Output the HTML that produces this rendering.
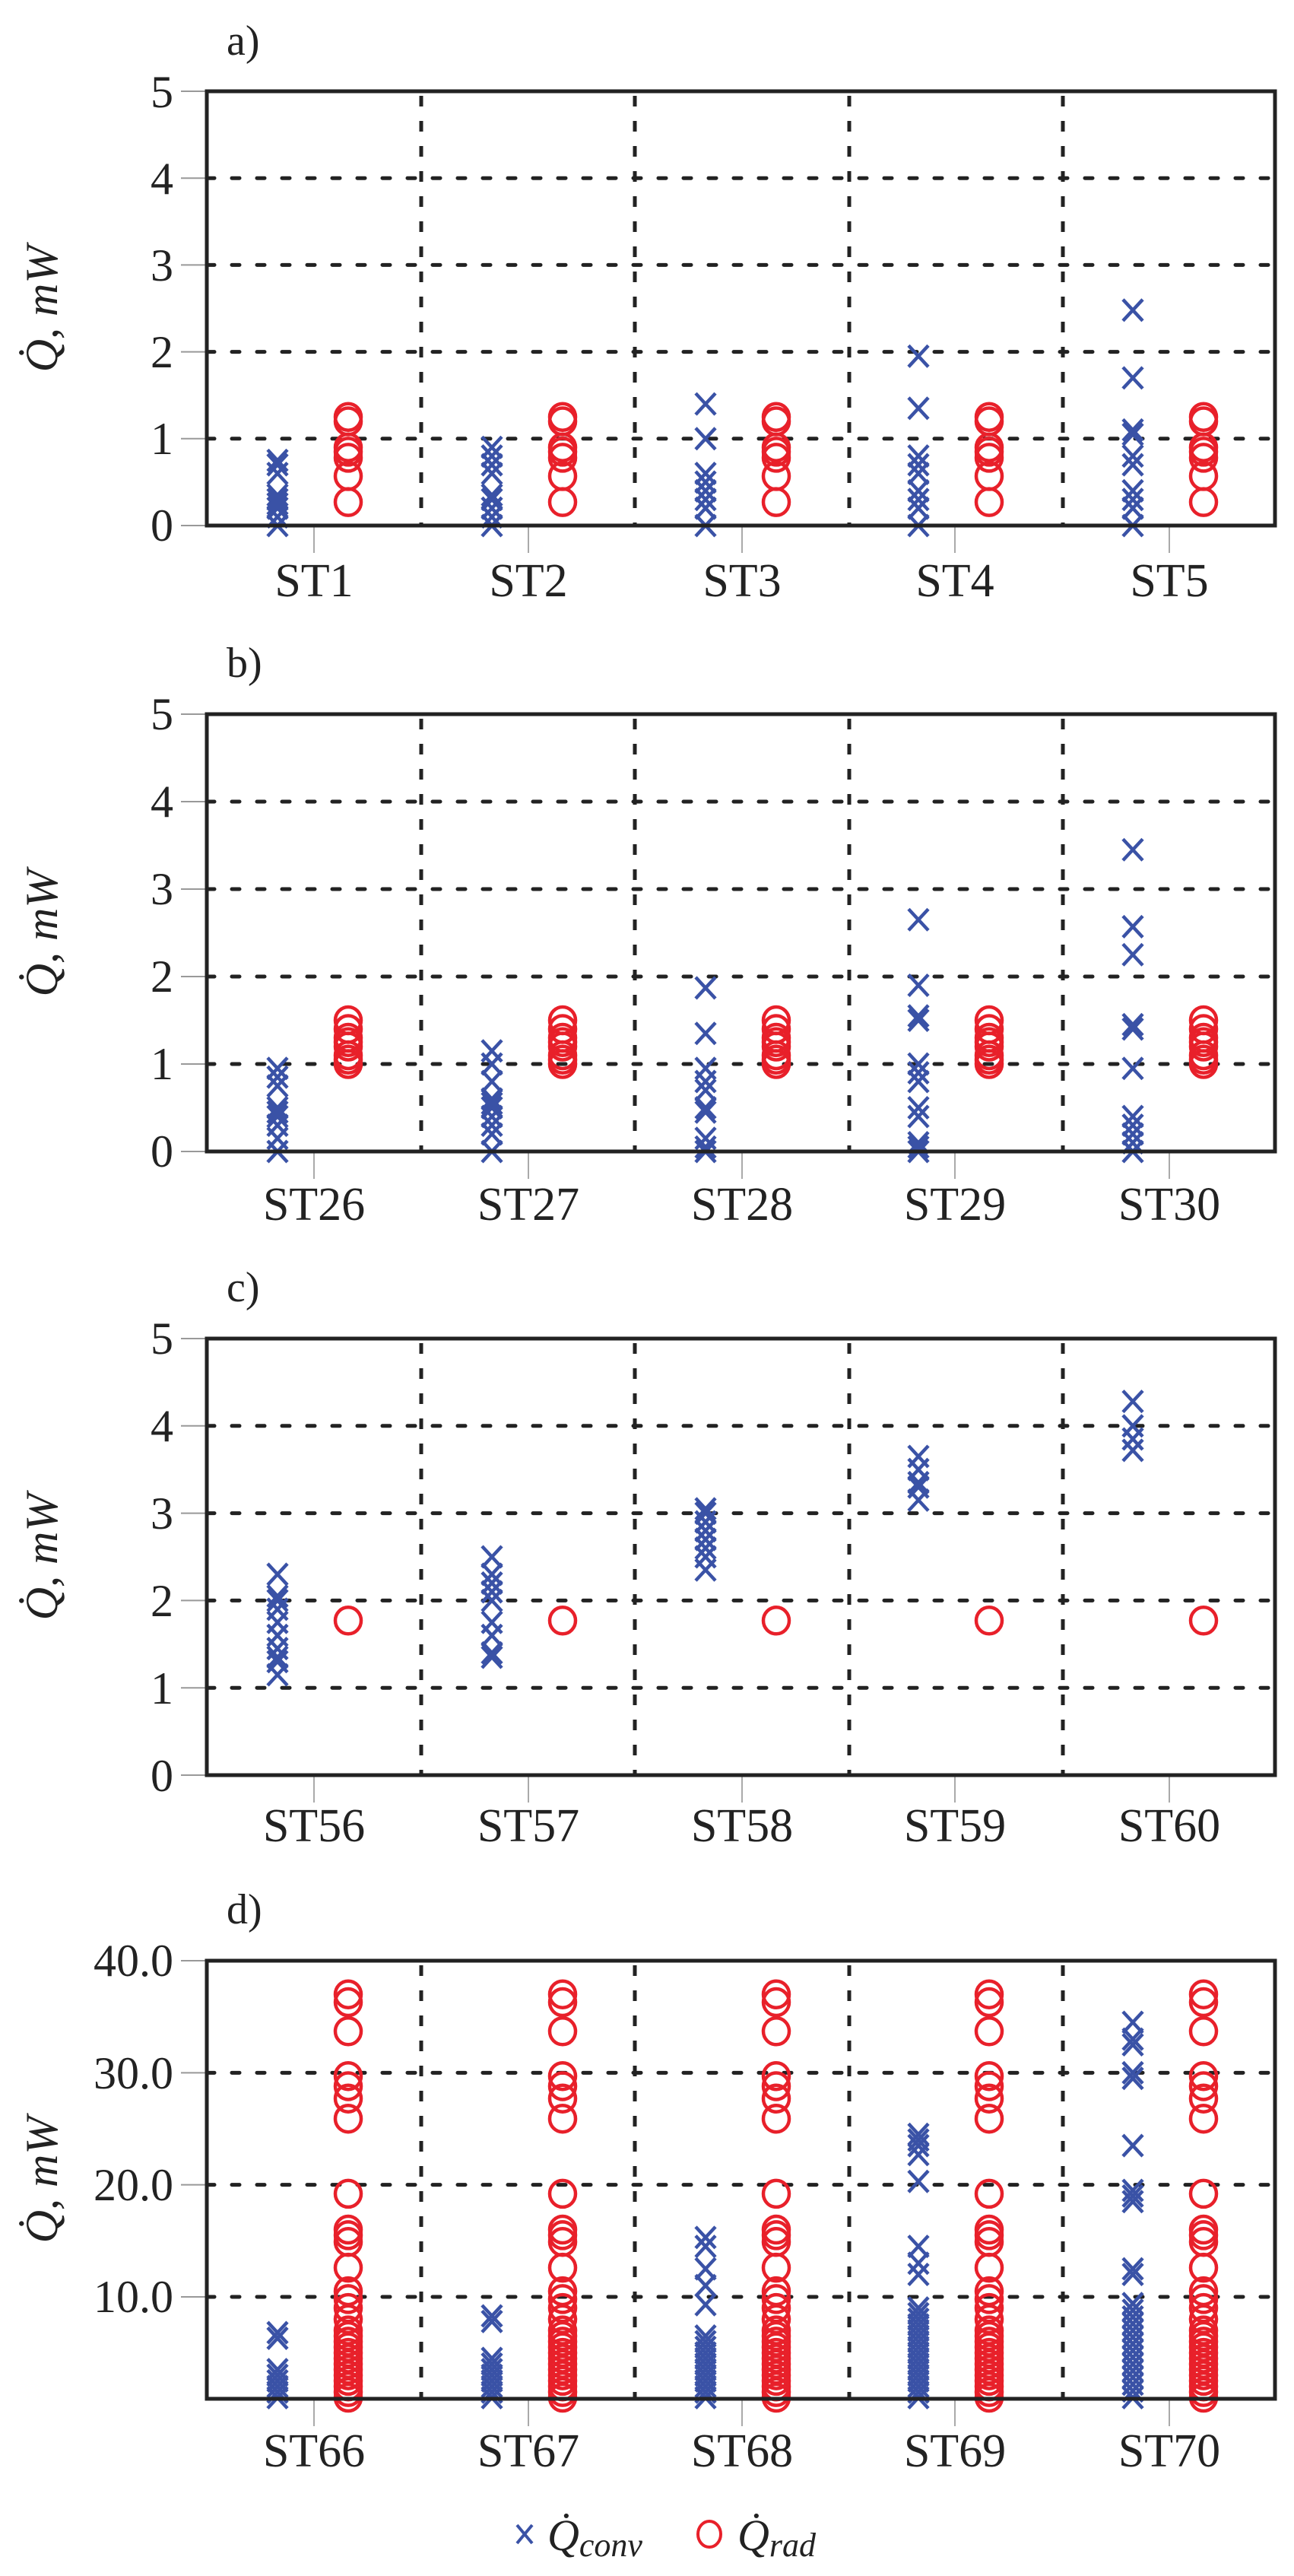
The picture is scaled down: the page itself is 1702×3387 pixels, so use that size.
<!DOCTYPE html>
<html><head><meta charset="utf-8">
<style>
html,body{margin:0;padding:0;background:#fff;}
svg{display:block;}
text{font-family:"Liberation Serif",serif;fill:#222;}
</style></head>
<body>
<svg id="s" width="1702" height="3387" viewBox="0 0 1702 3387" xmlns="http://www.w3.org/2000/svg">
<g id="g"></g>
<text x="298" y="72" font-size="56">a)</text>
<text x="298" y="890" font-size="56">b)</text>
<text x="298" y="1711" font-size="56">c)</text>
<text x="298" y="2529" font-size="56">d)</text>
<g font-size="60" text-anchor="end">
<text x="228" y="141">5</text><text x="228" y="255">4</text><text x="228" y="369">3</text><text x="228" y="483">2</text><text x="228" y="597">1</text><text x="228" y="711">0</text>
<text x="228" y="959">5</text><text x="228" y="1074">4</text><text x="228" y="1189">3</text><text x="228" y="1304">2</text><text x="228" y="1419">1</text><text x="228" y="1534">0</text>
<text x="228" y="1780">5</text><text x="228" y="1895">4</text><text x="228" y="2010">3</text><text x="228" y="2125">2</text><text x="228" y="2240">1</text><text x="228" y="2355">0</text>
<text x="228" y="2598">40.0</text><text x="228" y="2746">30.0</text><text x="228" y="2893">20.0</text><text x="228" y="3040">10.0</text>
</g>
<g font-size="62" text-anchor="middle">
<text x="413" y="784">ST1</text><text x="695" y="784">ST2</text><text x="976" y="784">ST3</text><text x="1256" y="784">ST4</text><text x="1538" y="784">ST5</text>
<text x="413" y="1604">ST26</text><text x="695" y="1604">ST27</text><text x="976" y="1604">ST28</text><text x="1256" y="1604">ST29</text><text x="1538" y="1604">ST30</text>
<text x="413" y="2421">ST56</text><text x="695" y="2421">ST57</text><text x="976" y="2421">ST58</text><text x="1256" y="2421">ST59</text><text x="1538" y="2421">ST60</text>
<text x="413" y="3243">ST66</text><text x="695" y="3243">ST67</text><text x="976" y="3243">ST68</text><text x="1256" y="3243">ST69</text><text x="1538" y="3243">ST70</text>
</g>
<g font-size="60" font-style="italic">
<text transform="translate(75,406) rotate(-90)" text-anchor="middle">Q̇, mW</text>
<text transform="translate(75,1227) rotate(-90)" text-anchor="middle">Q̇, mW</text>
<text transform="translate(75,2047) rotate(-90)" text-anchor="middle">Q̇, mW</text>
<text transform="translate(75,2866) rotate(-90)" text-anchor="middle">Q̇, mW</text>
</g>
<g stroke="#3a52a6" stroke-width="4"><line x1="680" y1="3320" x2="700" y2="3344"/><line x1="700" y1="3320" x2="680" y2="3344"/></g>
<text x="720" y="3353" font-size="58" font-style="italic">Q̇<tspan font-size="44" dy="8">conv</tspan></text>
<ellipse cx="933" cy="3332" rx="15" ry="17" fill="none" stroke="#e8202a" stroke-width="4"/>
<text x="970" y="3353" font-size="58" font-style="italic">Q̇<tspan font-size="44" dy="8">rad</tspan></text>
</svg>
<script>
var NS="http://www.w3.org/2000/svg",G=document.getElementById("g");
function el(t,a){var e=document.createElementNS(NS,t);for(var k in a)e.setAttribute(k,a[k]);G.appendChild(e);return e;}
var L=272,R=1677,cx=[413,695,976,1256,1538],vx=[554,835,1117,1398];
function rng(a,b,s){var r=[];for(var v=a;v<=b+1e-9;v+=s)r.push(+v.toFixed(2));return r;}
var P=[
{top:120,bot:691,min:0,max:5,grid:[1,2,3,4,5],ticks:[0,1,2,3,4,5],
 circ:[[0.27,0.57,0.78,0.85,0.9,1.2,1.25]],
 cr:[[0,0.1,0.2,0.25,0.3,0.35,0.6,0.7,0.75],[0,0.1,0.2,0.3,0.35,0.6,0.7,0.8,0.9],[0,0.2,0.3,0.4,0.5,0.6,1.0,1.4],[0,0.2,0.3,0.4,0.6,0.7,0.8,1.35,1.95],[0,0.2,0.3,0.4,0.7,0.8,1.05,1.1,1.7,2.48]]},
{top:939,bot:1514,min:0,max:5,grid:[1,2,3,4,5],ticks:[0,1,2,3,4,5],
 circ:[[1.0,1.05,1.1,1.2,1.25,1.3,1.4,1.5]],
 cr:[[0,0.15,0.3,0.4,0.45,0.5,0.75,0.85,0.95],[0,0.2,0.3,0.4,0.5,0.55,0.6,0.8,1.0,1.15],[0,0.05,0.15,0.45,0.5,0.7,0.8,0.95,1.35,1.87],[0,0.05,0.1,0.4,0.5,0.8,0.9,1.0,1.5,1.55,1.9,2.65],[0,0.1,0.2,0.3,0.4,0.95,1.4,1.45,2.25,2.57,3.45]]},
{top:1760,bot:2334,min:0,max:5,grid:[1,2,3,4,5],ticks:[0,1,2,3,4,5],
 circ:[[1.77]],
 cr:[[1.15,1.3,1.35,1.45,1.6,1.75,1.9,2.0,2.05,2.3],[1.35,1.4,1.6,1.75,2.0,2.1,2.2,2.3,2.5],[2.35,2.5,2.6,2.7,2.8,2.9,3.0,3.05],[3.15,3.3,3.35,3.5,3.65],[3.72,3.85,4.0,4.28]]},
{top:2578,bot:3154,min:0.9,max:40,grid:[10,20,30,40],ticks:[10,20,30,40],
 circ:[[37,36.3,33.7,29.7,28.8,27.7,25.9,19.2,16,15.5,14.9,12.6,10.5,9.8,9,8,7,6.5,6,5.5,5,4.5,4,3.5,3,2.5,2,1.5,1]],
 cr:[rng(1,3.5,0.5).concat([6.3,6.8]),rng(1,4.5,0.5).concat([7.8,8.3]),rng(1,6.5,0.5).concat([9.3,11,12.5,14.5,15.3]),rng(1,9,0.5).concat([12,13,14.5,20.3,22.7,23.5,24,24.5]),rng(1,9.8,0.6).concat([12,12.5,18.5,19,19.5,23.5,29.5,30,32.5,33,34.5])]}
];
P.forEach(function(p){
 function Y(v){return p.bot-(v-p.min)/(p.max-p.min)*(p.bot-p.top);}
 p.ticks.forEach(function(t){el("line",{x1:238,x2:L,y1:Y(t),y2:Y(t),stroke:"#999","stroke-width":2});});
 cx.forEach(function(x){el("line",{x1:x,x2:x,y1:p.bot,y2:p.bot+36,stroke:"#aaa","stroke-width":2});});
 vx.forEach(function(x){el("line",{x1:x,x2:x,y1:p.top+6,y2:p.bot,stroke:"#222","stroke-width":5,"stroke-dasharray":"14 19"});});
 p.grid.forEach(function(g){el("line",{x1:L,x2:R,y1:Y(g),y2:Y(g),stroke:"#222","stroke-width":5,"stroke-dasharray":"10 23","stroke-linecap":"round"});});
 for(var i=0;i<5;i++){
  var xc=cx[i]-48,xo=cx[i]+45;
  p.cr[i].forEach(function(v){var y=Y(v);
   el("path",{d:"M"+(xc-13)+" "+(y-14)+"L"+(xc+13)+" "+(y+14)+"M"+(xc+13)+" "+(y-14)+"L"+(xc-13)+" "+(y+14),stroke:"#3a52a6","stroke-width":4.5,fill:"none"});});
  p.circ[0].forEach(function(v){el("ellipse",{cx:xo,cy:Y(v),rx:17,ry:17.5,fill:"none",stroke:"#e8202a","stroke-width":4.5});});
 }
 el("rect",{x:L,y:p.top,width:R-L,height:p.bot-p.top,fill:"none",stroke:"#222","stroke-width":5});
});
</script>
</body></html>
